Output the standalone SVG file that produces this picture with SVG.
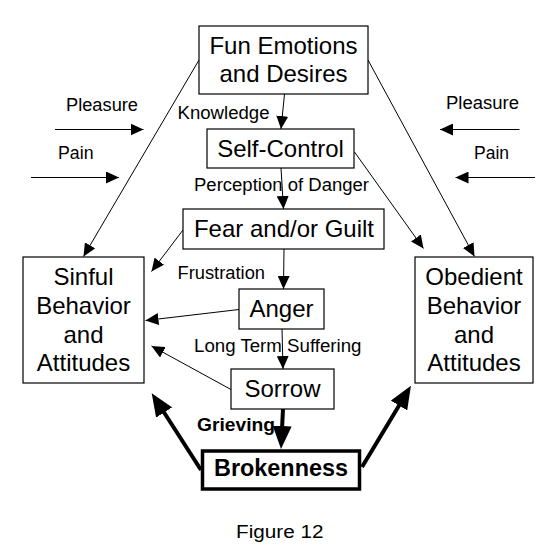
<svg xmlns="http://www.w3.org/2000/svg" width="560" height="558" viewBox="0 0 560 558">
<defs>
<style>
.box{fill:#fff;stroke:#000;stroke-width:1.2}
.bold-box{fill:#fff;stroke:#000;stroke-width:3.5}
.big{font-family:"Liberation Sans",Arial,sans-serif;font-size:24px;fill:#000;text-anchor:middle}
.lbl{font-family:"Liberation Sans",Arial,sans-serif;font-size:17.5px;fill:#000}
.thin{stroke:#000;stroke-width:1;fill:none;marker-end:url(#ah)}
.thick{stroke:#000;stroke-width:4;fill:none;marker-end:url(#ahb)}
</style>
<marker id="ah" markerUnits="userSpaceOnUse" markerWidth="13" markerHeight="12" viewBox="0 0 13 12" refX="13" refY="6" orient="auto">
<path d="M0,0 L13,6 L0,12 z" fill="#000"/>
</marker>
<marker id="ahb" markerUnits="userSpaceOnUse" markerWidth="23" markerHeight="19" viewBox="0 0 23 19" refX="3" refY="9.5" orient="auto">
<path d="M0,0 L23,9.5 L0,19 z" fill="#000"/>
</marker>
</defs>
<rect width="560" height="558" fill="#fff"/>
<g id="connectors">
<line class="thin" x1="55" y1="129.5" x2="143.5" y2="129.5"/>
<line class="thin" x1="31" y1="177.5" x2="119" y2="177.5"/>
<line class="thin" x1="519.5" y1="129.5" x2="440" y2="129.5"/>
<line class="thin" x1="535" y1="177.5" x2="455.5" y2="177.5"/>
<line class="thin" x1="199" y1="60" x2="83.5" y2="256.5"/>
<line class="thin" x1="368" y1="60" x2="474.5" y2="256.5"/>
<line class="thin" x1="354.5" y1="152" x2="423.5" y2="248.5"/>
<line class="thin" x1="183" y1="230" x2="151.5" y2="271.5"/>
<line class="thin" x1="239" y1="309.5" x2="145.5" y2="320.5"/>
<line class="thin" x1="231" y1="389.5" x2="151.5" y2="346"/>
<line class="thin" x1="284.5" y1="94" x2="281" y2="129"/>
<line class="thin" x1="281" y1="168" x2="283.5" y2="209"/>
<line class="thin" x1="284" y1="249" x2="283.5" y2="289"/>
<line class="thin" x1="282" y1="329" x2="283" y2="369"/>
<line class="thick" x1="283" y1="409" x2="282" y2="429"/>
<line class="thick" x1="201" y1="470" x2="162.5" y2="410"/>
<line class="thick" x1="362" y1="467" x2="400.6" y2="403"/>
</g>
<g id="fun">
<rect class="box" x="199" y="26" width="169" height="68"/>
<text class="big" x="283.5" y="53.5">Fun Emotions</text>
<text class="big" x="283.5" y="82">and Desires</text>
</g>
<g id="selfcontrol">
<rect class="box" x="207" y="129" width="147" height="39"/>
<text class="big" x="280.5" y="157">Self-Control</text>
</g>
<g id="fear">
<rect class="box" x="183" y="209" width="201" height="40"/>
<text class="big" x="284" y="237">Fear and/or Guilt</text>
</g>
<g id="anger">
<rect class="box" x="239" y="289" width="85" height="40"/>
<text class="big" x="281.5" y="316.5">Anger</text>
</g>
<g id="sorrow">
<rect class="box" x="231" y="369" width="103" height="40"/>
<text class="big" x="282.5" y="397">Sorrow</text>
</g>
<g id="brokenness">
<rect class="bold-box" x="202.5" y="451" width="157" height="38"/>
<text class="big" x="281" y="476" font-weight="bold" textLength="134" lengthAdjust="spacingAndGlyphs">Brokenness</text>
</g>
<g id="sinful">
<rect class="box" x="23" y="257" width="121" height="126"/>
<text class="big" x="83.5" y="284.5">Sinful</text>
<text class="big" x="83.5" y="313.5">Behavior</text>
<text class="big" x="83.5" y="342.5">and</text>
<text class="big" x="83.5" y="371">Attitudes</text>
</g>
<g id="obedient">
<rect class="box" x="415" y="257" width="118" height="126"/>
<text class="big" x="474" y="284.5">Obedient</text>
<text class="big" x="474" y="313.5">Behavior</text>
<text class="big" x="474" y="342.5">and</text>
<text class="big" x="474" y="371">Attitudes</text>
</g>
<g id="labels">
<text class="lbl" x="66" y="111" textLength="72" lengthAdjust="spacingAndGlyphs">Pleasure</text>
<text class="lbl" x="58" y="159" textLength="35.5" lengthAdjust="spacingAndGlyphs">Pain</text>
<text class="lbl" x="446" y="108.5" textLength="73" lengthAdjust="spacingAndGlyphs">Pleasure</text>
<text class="lbl" x="474" y="159" textLength="35" lengthAdjust="spacingAndGlyphs">Pain</text>
<text class="lbl" x="177.5" y="119" textLength="92" lengthAdjust="spacingAndGlyphs">Knowledge</text>
<text class="lbl" x="194" y="191" textLength="175" lengthAdjust="spacingAndGlyphs">Perception of Danger</text>
<text class="lbl" x="177.5" y="279" textLength="87.5" lengthAdjust="spacingAndGlyphs">Frustration</text>
<text class="lbl" x="194" y="352" textLength="167.5" lengthAdjust="spacingAndGlyphs">Long Term Suffering</text>
<text class="lbl" x="197" y="431" textLength="78" lengthAdjust="spacingAndGlyphs" font-weight="bold">Grieving</text>
<text class="lbl" x="236" y="538" textLength="87.5" lengthAdjust="spacingAndGlyphs">Figure 12</text>
</g>
</svg>
